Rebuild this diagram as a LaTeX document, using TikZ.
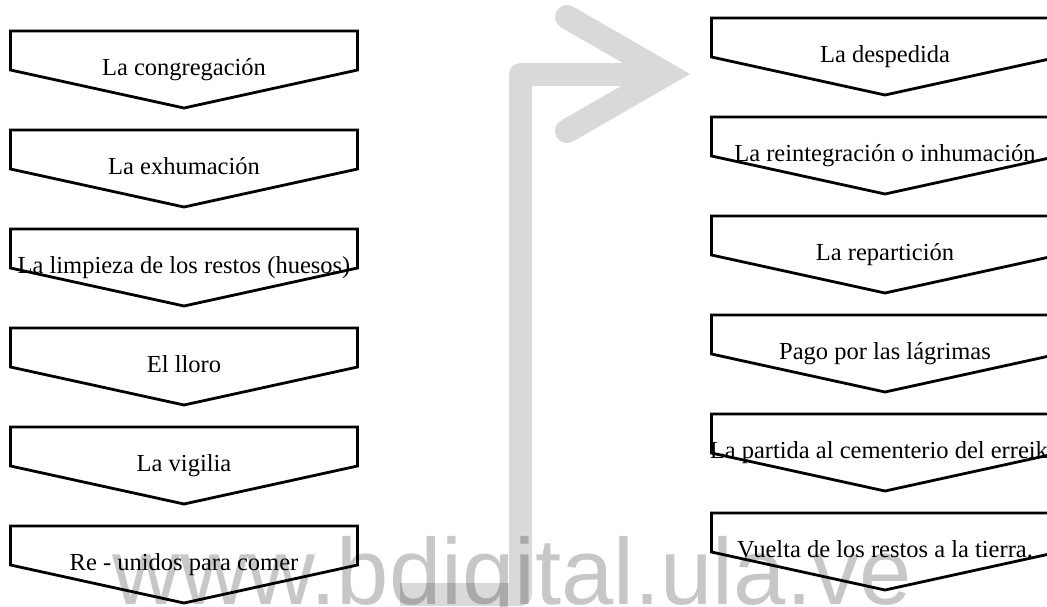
\documentclass[tikz,border=0pt]{standalone}
\usepackage{fontspec}
\setmainfont{Liberation Serif}
\newfontfamily\marksans{Liberation Sans}
\definecolor{barGray}{RGB}{217,217,217}

% one stage: a box whose lower side ends in a point
% #1 node name, #2 centre x, #3 top y, #4 label
\newcommand\stagebox[4]{%
  \draw[boxline] (#2-173.5,#3) -- (#2+173.5,#3) -- (#2+173.5,#3+39)
        -- (#2,#3+77) -- (#2-173.5,#3+39) -- cycle;
  \node[boxtext] (#1) at (#2,#3+44) {#4};
}

\begin{document}
\begin{tikzpicture}[x=1pt,y=-1pt,
  boxline/.style={draw=black,line width=2.8pt,line join=miter},
  boxtext/.style={font=\fontsize{24.5}{29}\selectfont,inner sep=0pt,anchor=base},
  flowbar/.style={draw=barGray,line width=23pt,line join=round,line cap=butt},
  flowhead/.style={draw=barGray,line width=24pt,line join=miter,line cap=round},
  watermark/.style={font=\marksans\fontsize{94}{94}\selectfont,text=black,
                    text opacity=0.22,inner sep=0pt,anchor=base west}]
\useasboundingbox (0,0) rectangle (1047,606);
\clip (0,0) rectangle (1047,606);

% the wide grey arrow leading from the first column to the second
\coordinate (barStart) at (400,594.5);
\coordinate (barLow)   at (520.5,594.5);
\coordinate (barHigh)  at (520.5,74);
\coordinate (barEnd)   at (660,74);
\draw[flowbar] (barStart) -- (barLow) -- (barHigh) -- (barEnd);
\coordinate (headTop) at (567,17);
\coordinate (headTip) at (666,74);
\coordinate (headBot) at (567,131);
\draw[flowhead] (headTop) -- (headTip) -- (headBot);

% first column
\stagebox{l1}{184}{31}{La congregación}
\stagebox{l2}{184}{130}{La exhumación}
\stagebox{l3}{184}{229}{La limpieza de los restos (huesos)}
\stagebox{l4}{184}{328}{El lloro}
\stagebox{l5}{184}{427}{La vigilia}
\stagebox{l6}{184}{526}{Re - unidos para comer}

% second column
\stagebox{r1}{885}{18}{La despedida}
\stagebox{r2}{885}{117}{La reintegración o inhumación}
\stagebox{r3}{885}{216}{La repartición}
\stagebox{r4}{885}{315}{Pago por las lágrimas}
\stagebox{r5}{885}{414}{La partida al cementerio del erreiku}
\stagebox{r6}{885}{513}{Vuelta de los restos a la tierra.}

% site mark across the bottom
\node[watermark] (wm) at (112,604) {www.bdigital.ula.ve};
\end{tikzpicture}
\end{document}
